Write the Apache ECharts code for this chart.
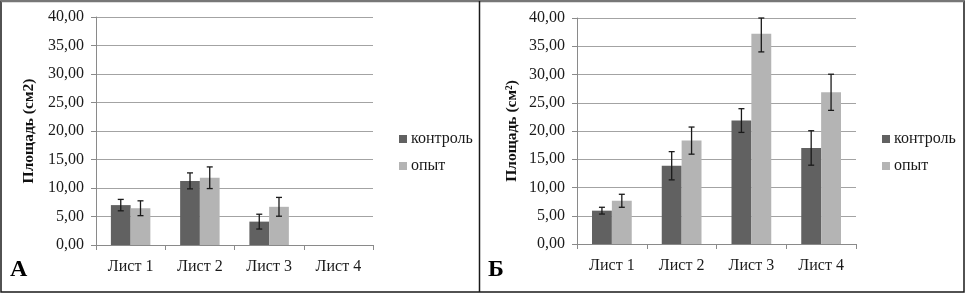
<!DOCTYPE html>
<html>
<head>
<meta charset="utf-8">
<script src="https://cdn.jsdelivr.net/npm/echarts@6/dist/echarts.min.js"></script>
<style>
  html, body { margin: 0; padding: 0; background: #fff; }
  #chart { width: 966px; height: 294px; }
</style>
</head>
<body>
<div id="chart"></div>
<script>
const categories = ['Лист 1', 'Лист 2', 'Лист 3', 'Лист 4'];
const seriesNames = ['контроль', 'опыт'];

// panel А
const controlA = [7.0, 11.25, 4.1, null];
const controlErrA = [1.0, 1.4, 1.3, null];
const opytA = [6.45, 11.8, 6.7, null];
const opytErrA = [1.3, 1.9, 1.65, null];

// panel Б
const controlB = [5.9, 13.85, 21.85, 17.0];
const controlErrB = [0.6, 2.5, 2.1, 3.05];
const opytB = [7.65, 18.3, 37.2, 26.85];
const opytErrB = [1.15, 2.4, 3.2, 3.2];

const darkGrey = '#616161';
const lightGrey = '#b4b4b4';
const serif = 'Liberation Serif';
const catGap = 0.43;

function errorItems(values, errs) {
    const out = [];
    values.forEach((v, i) => {
        if (v !== null) out.push([i, v, errs[i]]);
    });
    return out;
}

function errorBar(side) {
    return function (params, api) {
        const i = api.value(0);
        const v = api.value(1);
        const e = api.value(2);
        const band = api.size([1, 0])[0];
        const barW = band * (1 - catGap) / 2;
        const cx = api.coord([i, v])[0] + side * barW / 2;
        const cs = params.coordSys;
        const yHi = Math.max(api.coord([i, v + e])[1], cs.y);
        const yLo = api.coord([i, v - e])[1];
        const cap = 3;
        const style = {stroke: '#1a1a1a', lineWidth: 1.3};
        return {
            type: 'group',
            children: [
                {type: 'line', shape: {x1: cx, y1: yHi, x2: cx, y2: yLo}, style: style},
                {type: 'line', shape: {x1: cx - cap, y1: yHi, x2: cx + cap, y2: yHi}, style: style},
                {type: 'line', shape: {x1: cx - cap, y1: yLo, x2: cx + cap, y2: yLo}, style: style},
            ],
        };
    };
}

function xAxisFor(gridIndex) {
    return {
        type: 'category',
        gridIndex: gridIndex,
        data: categories,
        axisLine: {lineStyle: {color: '#8a8a8a', width: 1}},
        axisTick: {show: true, length: 5, lineStyle: {color: '#8a8a8a'}},
        axisLabel: {color: '#1a1a1a', fontFamily: serif, fontSize: 16, margin: 14},
    };
}

function yAxisFor(gridIndex, name, gap) {
    return {
        type: 'value',
        gridIndex: gridIndex,
        min: 0,
        max: 40,
        interval: 5,
        name: name,
        nameLocation: 'middle',
        nameGap: gap,
        nameTextStyle: {color: '#111', fontFamily: serif, fontSize: 15.5, fontWeight: 'bold'},
        axisLine: {show: true, lineStyle: {color: '#8a8a8a', width: 1}},
        axisTick: {show: true, length: 5, lineStyle: {color: '#8a8a8a'}},
        axisLabel: {
            color: '#1a1a1a', fontFamily: serif, fontSize: 16, margin: 12,
            formatter: (v) => v.toFixed(2).replace('.', ','),
        },
        splitLine: {lineStyle: {color: '#a3a3a3', width: 1}},
    };
}

function barSeries(name, data, idx, color) {
    return {
        name: name,
        type: 'bar',
        xAxisIndex: idx,
        yAxisIndex: idx,
        data: data.map((v) => (v === null ? '-' : v)),
        barGap: '0%',
        barCategoryGap: (catGap * 100) + '%',
        itemStyle: {color: color},
        silent: true,
    };
}

function errSeries(values, errs, idx, side) {
    return {
        type: 'custom',
        xAxisIndex: idx,
        yAxisIndex: idx,
        data: errorItems(values, errs),
        renderItem: errorBar(side),
        z: 10,
        silent: true,
    };
}

function legendFor(left) {
    return {
        orient: 'vertical',
        left: left,
        top: 126,
        itemWidth: 8,
        itemHeight: 8,
        itemGap: 11,
        icon: 'rect',
        data: seriesNames,
        textStyle: {color: '#1a1a1a', fontFamily: serif, fontSize: 16, padding: [0, 0, 0, -1]},
        selectedMode: false,
    };
}

const chart = echarts.init(document.getElementById('chart'), null, {renderer: 'canvas'});
chart.setOption({
    animation: false,
    backgroundColor: '#fff',
    grid: [
        {left: 96, top: 17, width: 277, height: 228},
        {left: 577, top: 18, width: 279, height: 226},
    ],
    legend: [legendFor(394), legendFor(877)],
    xAxis: [xAxisFor(0), xAxisFor(1)],
    yAxis: [yAxisFor(0, 'Площадь (см2)', 59), yAxisFor(1, 'Площадь (см²)', 57)],
    series: [
        barSeries(seriesNames[0], controlA, 0, darkGrey),
        barSeries(seriesNames[1], opytA, 0, lightGrey),
        errSeries(controlA, controlErrA, 0, -1),
        errSeries(opytA, opytErrA, 0, 1),
        barSeries(seriesNames[0], controlB, 1, darkGrey),
        barSeries(seriesNames[1], opytB, 1, lightGrey),
        errSeries(controlB, controlErrB, 1, -1),
        errSeries(opytB, opytErrB, 1, 1),
    ],
    graphic: [
        {type: 'rect', shape: {x: 1, y: 1, width: 963, height: 291}, style: {fill: 'none', stroke: '#1a1a1a', lineWidth: 1.5}},
        {type: 'line', shape: {x1: 1, y1: 1, x2: 964, y2: 1}, style: {stroke: '#777', lineWidth: 2.5}},
        {type: 'line', shape: {x1: 479.5, y1: 1, x2: 479.5, y2: 292}, style: {stroke: '#1a1a1a', lineWidth: 1.5}},
        {type: 'text', left: 10, top: 258, style: {text: 'А', fill: '#000', font: 'bold 24px "Liberation Serif"'}},
        {type: 'text', left: 488, top: 258, style: {text: 'Б', fill: '#000', font: 'bold 24px "Liberation Serif"'}},
    ],
});
</script>
</body>
</html>
